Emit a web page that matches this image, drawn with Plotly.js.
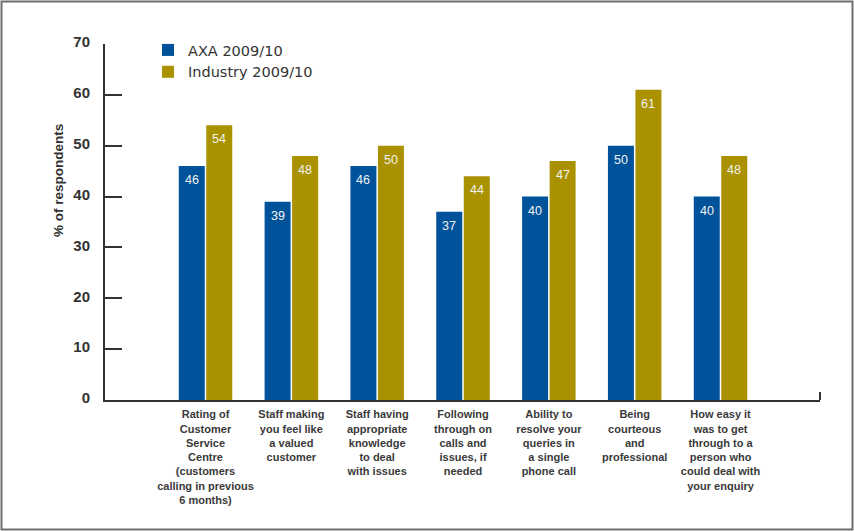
<!DOCTYPE html>
<html>
<head>
<meta charset="utf-8">
<script src="https://cdn.plot.ly/plotly-3.0.1.min.js"></script>
<style>html,body{margin:0;padding:0;background:#fff}#chart{width:854px;height:531px}</style>
</head>
<body>
<div id="chart"></div>
<script>
var categories = [
  "Rating of<br>Customer<br>Service<br>Centre<br>(customers<br>calling in previous<br>6 months)",
  "Staff making<br>you feel like<br>a valued<br>customer",
  "Staff having<br>appropriate<br>knowledge<br>to deal<br>with issues",
  "Following<br>through on<br>calls and<br>issues, if<br>needed",
  "Ability to<br>resolve your<br>queries in<br>a single<br>phone call",
  "Being<br>courteous<br>and<br>professional",
  "How easy it<br>was to get<br>through to a<br>person who<br>could deal with<br>your enquiry"
];
var axaValues = [46, 39, 46, 37, 40, 50, 40];
var industryValues = [54, 48, 50, 44, 47, 61, 48];
var seriesNames = ["AXA 2009/10", "Industry 2009/10"];
var yTicks = [0, 10, 20, 30, 40, 50, 60, 70];

var bargap = 0.359, bargroupgap = 0.055;
var colors = ["#00529b", "#a99100"];
var seriesValues = [axaValues, industryValues];

var traces = seriesValues.map(function (vals, s) {
  return {type: "bar", name: seriesNames[s], x: categories, y: vals,
    marker: {color: colors[s]}, hoverinfo: "none"};
});

// value labels placed inside the top of each bar
var slot = (1 - bargap) / 2;
var labelFont = {family: "Liberation Sans, Arial, sans-serif", size: 12.5, color: "#f2f2ee"};
var valueLabels = [];
seriesValues.forEach(function (vals, s) {
  var off = (s - 0.5) * slot;
  vals.forEach(function (v, i) {
    valueLabels.push({text: String(v), xref: "x", yref: "y", x: i + off, y: v,
      xanchor: "center", yanchor: "top", yshift: -5, showarrow: false, font: labelFont});
  });
});

var L = 105, R = 34, T = 44, B = 131, W = 854, H = 531;
var pw = W - L - R, ph = H - T - B;
function px(x) { return (x - L) / pw; }
function py(y) { return (H - B - y) / ph; }

var layout = {
  width: W, height: H,
  margin: {l: L, r: R, t: T, b: B, pad: 0},
  paper_bgcolor: "#ffffff", plot_bgcolor: "#ffffff",
  barmode: "group", bargap: bargap, bargroupgap: bargroupgap,
  showlegend: true,
  legend: {x: px(148), y: py(34), xanchor: "left", yanchor: "top",
    font: {family: "DejaVu Sans, sans-serif", size: 14.5, color: "#333333"},
    bgcolor: "rgba(0,0,0,0)", tracegroupgap: 0, itemwidth: 30},
  xaxis: {type: "category", range: [-1.171, 7.159], showgrid: false, zeroline: false,
    showline: true, linecolor: "#333333", linewidth: 2, ticks: "",
    tickfont: {family: "Liberation Sans, Arial, sans-serif", size: 11, color: "#3a3a3a", weight: "bold"},
    ticklabelstandoff: 3, fixedrange: true},
  yaxis: {range: [0, 70], tickvals: yTicks, ticktext: yTicks.map(String), showgrid: false, zeroline: false,
    showline: true, linecolor: "#333333", linewidth: 2, ticks: "inside", ticklen: 17, tickwidth: 2, tickcolor: "#333333",
    tickfont: {family: "Liberation Sans, Arial, sans-serif", size: 15, color: "#333333", weight: "bold"},
    ticklabelstandoff: 10, ticklabelshift: -2, fixedrange: true},
  annotations: valueLabels.concat([
    {text: "% of respondents", xref: "paper", yref: "paper", x: px(58), y: py(181),
     xanchor: "center", yanchor: "middle", textangle: -90, showarrow: false,
     font: {family: "Liberation Sans, Arial, sans-serif", size: 13.5, color: "#333333", weight: "bold"}}
  ]),
  shapes: [
    {type: "line", xref: "paper", yref: "paper", x0: 1, x1: 1, y0: 0, y1: py(392),
     line: {color: "#333333", width: 2}},
    {type: "rect", xref: "paper", yref: "paper", x0: px(1.5), x1: px(852.5), y0: py(529.5), y1: py(1.5),
     line: {color: "#6e6e6e", width: 2}, layer: "above"}
  ]
};
Plotly.newPlot("chart", traces, layout, {displayModeBar: false, staticPlot: true});
</script>
</body>
</html>
